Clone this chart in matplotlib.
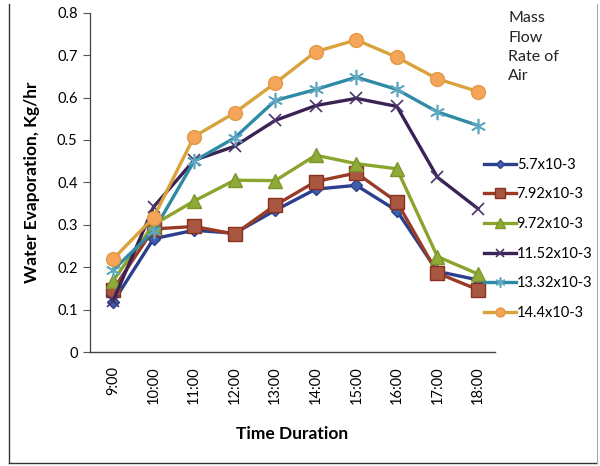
import matplotlib
matplotlib.use("Agg")
import matplotlib.pyplot as plt
from matplotlib.lines import Line2D

plt.rcParams['font.family'] = ['Lato', 'DejaVu Sans']

times = ["9:00", "10:00", "11:00", "12:00", "13:00", "14:00", "15:00", "16:00", "17:00", "18:00"]
labels = ["5.7x10-3", "7.92x10-3", "9.72x10-3", "11.52x10-3", "13.32x10-3", "14.4x10-3"]
s_57 = [0.117, 0.267, 0.287, 0.280, 0.334, 0.384, 0.393, 0.333, 0.190, 0.170]
s_792 = [0.147, 0.290, 0.296, 0.278, 0.346, 0.402, 0.422, 0.354, 0.186, 0.147]
s_972 = [0.168, 0.300, 0.356, 0.405, 0.404, 0.464, 0.444, 0.432, 0.225, 0.184]
s_1152 = [0.120, 0.342, 0.452, 0.485, 0.546, 0.581, 0.598, 0.579, 0.412, 0.338]
s_1332 = [0.193, 0.285, 0.450, 0.505, 0.593, 0.619, 0.648, 0.619, 0.566, 0.534]
s_144 = [0.219, 0.317, 0.508, 0.564, 0.634, 0.708, 0.736, 0.695, 0.644, 0.614]
series = [s_57, s_792, s_972, s_1152, s_1332, s_144]

styles = [
    dict(color="#2B3F8C", marker="D", ms=6, mfc="#3F5FA8", mec="#2B3F8C"),
    dict(color="#9A3B26", marker="s", ms=10, mfc="#A85840", mec="#8A3020"),
    dict(color="#8AA42C", marker="^", ms=10, mfc="#8FAA38", mec="#7C9628"),
    dict(color="#3A2255", marker="x", ms=9, mfc="#3A2255", mec="#4A3468", mew=1.2),
    dict(color="#2F8AA6", marker=(6, 2, 0), ms=11, mfc="#2F8AA6", mec="#5FA8C0", mew=1.2),
    dict(color="#D9A23A", marker="o", ms=10, mfc="#F4A55A", mec="#E29A45"),
]

fig = plt.figure(figsize=(6.0, 4.66), dpi=100)
ax = fig.add_axes([90/600, 1-352/466, (495-90)/600, (352-12.7)/466])

x = list(range(len(times)))
for vals, st in zip(series, styles):
    ax.plot(x, vals, lw=2.4, **st)

ax.set_xlim(-0.567, 9.42)
ax.set_ylim(0, 0.8)
ax.set_yticks([0, 0.1, 0.2, 0.3, 0.4, 0.5, 0.6, 0.7, 0.8])
ax.set_yticklabels(["0", "0.1", "0.2", "0.3", "0.4", "0.5", "0.6", "0.7", "0.8"], fontsize=10.5)
ax.set_xticks(x)
ax.set_xticklabels(times, rotation=90, fontsize=10.5)
ax.tick_params(axis='x', length=0, pad=10)
ax.tick_params(axis='y', length=5, direction='out', width=0.8, pad=4, color="#555555")
for sp in ["top", "right"]:
    ax.spines[sp].set_visible(False)
ax.spines["left"].set_color("#444444")
ax.spines["bottom"].set_color("#444444")
ax.spines["left"].set_linewidth(0.9)
ax.spines["bottom"].set_linewidth(1.0)

ax.set_ylabel("Water Evaporation, Kg/hr", fontsize=12.5, fontweight="bold", labelpad=12)
ax.set_xlabel("Time Duration", fontsize=12.5, fontweight="bold", labelpad=16)

handles = [Line2D([0], [0], lw=2.4, **st) for st in styles]
for h in handles:
    h.set_markersize(h.get_markersize() * 0.65)
leg = fig.legend(handles, labels, loc="upper left", bbox_to_anchor=(478/600, 1-152/466),
                 frameon=False, fontsize=10.5, handlelength=2.2, handletextpad=0.05,
                 labelspacing=1.07, borderaxespad=0)
fig.text(508/600, 1-11/466, "Mass\nFlow\nRate of\nAir", fontsize=11.5, va="top", ha="left",
         linespacing=1.5, color="#222222")

# outer frame (left, bottom, right)
fig.add_artist(Line2D([9/600, 9/600], [1-4/466, 1-463/466], color="#333333", lw=1.0, transform=fig.transFigure))
fig.add_artist(Line2D([9/600, 597/600], [1-463/466, 1-463/466], color="#333333", lw=1.0, transform=fig.transFigure))
fig.add_artist(Line2D([597/600, 597/600], [1-4/466, 1-463/466], color="#aaaaaa", lw=0.8, transform=fig.transFigure))

fig.savefig("out.png", dpi=100)
